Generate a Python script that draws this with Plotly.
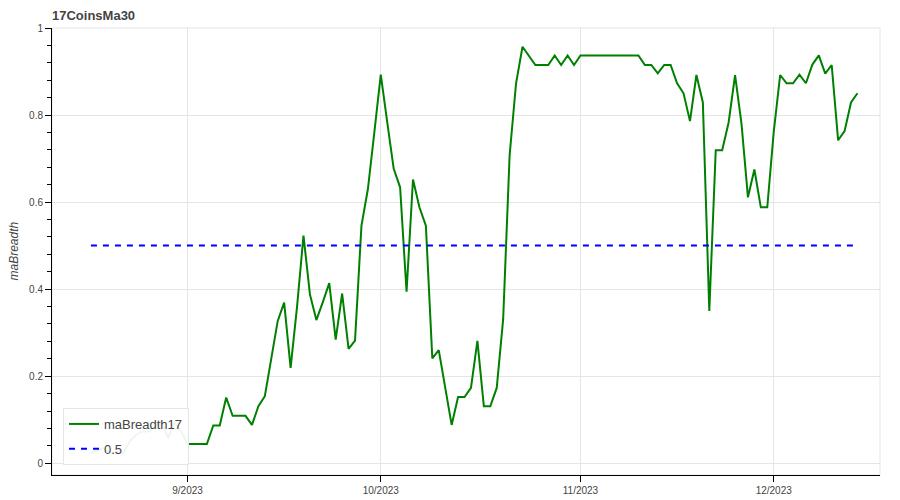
import pandas as pd
import plotly.graph_objects as go

start_date = "2023-08-17"
ma_breadth17 = [
    0.023, 0.030, 0.035, 0.023, 0.023, 0.023, 0.050, 0.065, 0.073, 0.073,
    0.087, 0.093, 0.058, 0.093, 0.073,
    # Sep
    0.044, 0.044, 0.044, 0.044, 0.087, 0.087, 0.151, 0.109, 0.109, 0.109,
    0.088, 0.131, 0.154, 0.242, 0.327, 0.369, 0.219, 0.360, 0.523, 0.388,
    0.329, 0.370, 0.414, 0.284, 0.390, 0.263, 0.282, 0.546, 0.630, 0.760,
    # Oct
    0.893, 0.784, 0.677, 0.634, 0.394, 0.652, 0.588, 0.546, 0.241, 0.260,
    0.175, 0.088, 0.152, 0.152, 0.173, 0.281, 0.131, 0.131, 0.173, 0.331,
    0.707, 0.873, 0.957, 0.937, 0.915, 0.915, 0.915, 0.937, 0.915, 0.937,
    0.915,
    # Nov
    0.937, 0.937, 0.937, 0.937, 0.937, 0.937, 0.937, 0.937, 0.937, 0.937,
    0.915, 0.915, 0.896, 0.915, 0.915, 0.873, 0.850, 0.786, 0.892, 0.829,
    0.350, 0.719, 0.719, 0.783, 0.892, 0.780, 0.611, 0.675, 0.588, 0.588,
    # Dec
    0.761, 0.892, 0.873, 0.873, 0.893, 0.873, 0.916, 0.937, 0.895, 0.915,
    0.742, 0.763, 0.829, 0.850,
]
threshold = 0.5
title_text = "17CoinsMa30"
y_label = "maBreadth"
series_names = ["maBreadth17", "0.5"]

dates = pd.date_range(start_date, periods=len(ma_breadth17), freq="D")

fig = go.Figure()
fig.add_trace(go.Scatter(
    x=dates, y=ma_breadth17, mode="lines", name=series_names[0],
    legendgroup="g1",
    line=dict(color="green", width=2),
))
fig.add_trace(go.Scatter(
    x=dates, y=[threshold] * len(dates), mode="lines", name=series_names[1],
    legendgroup="g2",
    line=dict(color="blue", width=2, dash="6px,6px"),
))

font_family = "Liberation Sans, Arial, sans-serif"
W, H = 892, 492

fig.update_layout(
    width=W, height=H,
    margin=dict(l=44, r=20, t=20, b=25, autoexpand=False),
    plot_bgcolor="white", paper_bgcolor="white",
    font=dict(family=font_family, size=10, color="#444444"),
    title=dict(text="<b>" + title_text + "</b>", x=44 / W, xanchor="left",
               y=1 - 7.5 / H, yanchor="middle", xref="container", yref="container",
               font=dict(size=13, color="#444444", family=font_family)),
    showlegend=True,
    legend=dict(
        x=0.0133, y=0.0224, xanchor="left", yanchor="bottom",
        bgcolor="rgba(255,255,255,0.93)", bordercolor="#e5e5e5", borderwidth=1,
        font=dict(size=13, color="#444444", family=font_family),
        itemwidth=30, tracegroupgap=5,
    ),
    xaxis=dict(
        range=["2023-08-10 23:00", "2023-12-17 12:00"],
        automargin=False,
        showgrid=True, gridcolor="#e5e5e5", gridwidth=1,
        showline=True, linecolor="black", linewidth=1,
        ticks="outside", ticklen=6, tickcolor="black",
        tick0="2023-09-01", dtick="M1", tickformat="%-m/%Y",
        zeroline=False,
    ),
    yaxis=dict(
        range=[-0.027, 1.0],
        automargin=False,
        showgrid=True, gridcolor="#e5e5e5", gridwidth=1,
        showline=True, linecolor="black", linewidth=1,
        ticks="outside", ticklen=6, tickcolor="black",
        tick0=0, dtick=0.2,
        minor=dict(dtick=0.04, ticks="outside", ticklen=4, tickcolor="black", showgrid=False),
        zeroline=False,
    ),
    annotations=[dict(
        text="<i>" + y_label + "</i>", textangle=-90,
        xref="paper", yref="paper", x=(5 - 44) / 828, y=0.5,
        xanchor="center", yanchor="middle", showarrow=False,
        font=dict(size=12, color="#444444", family=font_family),
    )],
    shapes=[dict(type="rect", xref="paper", yref="paper", x0=0, x1=1, y0=0, y1=1,
                 line=dict(color="#e5e5e5", width=1), layer="below")],
)

fig.write_html("out.html")
